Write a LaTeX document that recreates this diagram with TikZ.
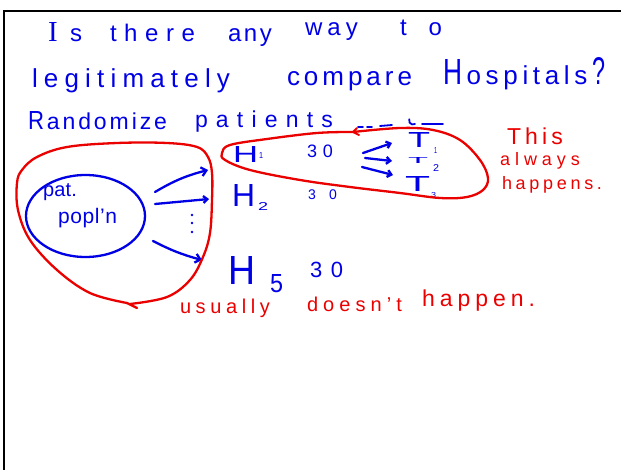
\documentclass[tikz,border=0pt]{standalone}
\usepackage{fontspec}
\usepackage{graphicx}
\setmainfont{Liberation Sans}
\newfontfamily\lserif{Liberation Serif}
\usetikzlibrary{arrows.meta,shapes.geometric}
\definecolor{inkblue}{RGB}{0,0,230}
\definecolor{inkred}{RGB}{235,0,0}
\newcommand{\sprd}[2]{\makebox[#1][s]{\spaceskip=0pt plus 1fil\relax #2}}
\newcommand{\fs}[1]{\fontsize{#1}{#1}\selectfont}
\tikzset{
  wb/.style={inner sep=0pt, outer sep=0pt, anchor=base west, text=inkblue},
  wr/.style={inner sep=0pt, outer sep=0pt, anchor=base west, text=inkred},
  bl/.style={draw=inkblue, line width=2.3pt, line cap=round, line join=round},
  rl/.style={draw=inkred, line width=2.3pt, line cap=round, line join=round},
  hw/.style={-{Straight Barb[length=5pt,width=9pt]}},
  hws/.style={-{Straight Barb[length=4pt,width=7pt]}}
}
\begin{document}
\begin{tikzpicture}[x=1pt,y=-1pt]
\useasboundingbox (0,0) rectangle (621,470);
\fill[white] (0,0) rectangle (621,470);
\draw[line width=2.6pt] (4,472) -- (4,11) -- (623,11);

% line 1
\node[wb,font=\fs{24}] (w1) at (48,42) {\sprd{34pt}{\resizebox{!}{19pt}{\lserif I} s}};
\node[wb,font=\fs{24}] (w2) at (110,42) {\sprd{85pt}{t h e r e}};
\node[wb,font=\fs{24}] (w3) at (228,42) {\sprd{44pt}{a n y}};
\node[wb,font=\fs{24}] (w4) at (305,36) {\sprd{53pt}{w a y}};
\node[wb,font=\fs{24}] (w5) at (400,36) {\sprd{42pt}{t o}};
% line 2
\node[wb,font=\fs{26}] (w6) at (32,88) {\sprd{198pt}{l e g i t i m a t e l y}};
\node[wb,font=\fs{26}] (w7) at (287,86) {\sprd{125pt}{c o m p a r e}};
\node[wb,font=\fs{26}] (w8) at (443,85) {\sprd{162pt}{\resizebox{19pt}{25pt}{H} o s p i t a l s \resizebox{13pt}{27pt}{?}}};
% line 3
\node[wb,font=\fs{23}] (w9) at (28,130) {\sprd{139pt}{\resizebox{16pt}{18pt}{R} a n d o m i z e}};
\node[wb,font=\fs{23}] (w10) at (195,128) {\sprd{138pt}{p a t i e n t s}};
% stray blue marks
\draw[bl,line width=1.8pt] (358,127) -- (363,127);
\draw[bl,line width=1.8pt] (367,127) -- (372,127);
\draw[bl,line width=1.8pt] (380,126) -- (392,125);
\draw[bl,line width=1.8pt] (415,124) arc[start angle=60,end angle=200,radius=4];
\draw[bl,line width=1.8pt] (422,124) -- (443,124);

% population ellipse
\node[draw=inkblue, line width=2.3pt, ellipse, minimum width=119pt, minimum height=82pt, inner sep=0pt] (pop) at (85.5,216) {};
\node[wb,font=\fs{20}] (pat) at (43,197) {\sprd{34pt}{p a t .}};
\node[wb,font=\fs{21}] (popln) at (58,224) {\sprd{59pt}{p o p l ' n}};

% hospitals
\node[wb] (h1) at (233,163) {\resizebox{25pt}{16pt}{H}};
\node[wb] (h1s) at (259,159) {\resizebox{4pt}{6pt}{1}};
\node[wb,font=\fs{18}] (n1) at (307,158) {\sprd{26pt}{3 0}};
\node[wb] (h2) at (232,207) {\resizebox{23pt}{22pt}{H}};
\node[wb] (h2s) at (258,211) {\resizebox{10pt}{8pt}{2}};
\node[wb,font=\fs{14}] (n2) at (308,200) {\sprd{29pt}{3 0}};
\node[wb] (h5) at (228,285) {\resizebox{27pt}{28pt}{H}};
\node[wb] (h5s) at (270,293) {\resizebox{13pt}{18pt}{5}};
\node[wb,font=\fs{22}] (n5) at (310,278) {\sprd{33pt}{3 0}};

% arrows from population
\coordinate (a1s) at (155,192); \coordinate (a1e) at (208,170);
\coordinate (a2s) at (155,204); \coordinate (a2e) at (209,199);
\coordinate (a3s) at (153,241); \coordinate (a3e) at (202,260);
\draw[bl,hw] (a1s) to[bend left=8] (a1e);
\draw[bl,hws] (a2s) -- (a2e);
\draw[bl,hw] (a3s) to[bend right=6] (a3e);
\fill[inkblue] (192,215) circle (1.3pt) (192,223) circle (1.3pt) (192,232) circle (1.3pt);

% treatments
\node[wb] (t1) at (408,148) {\resizebox{22pt}{15pt}{T}};
\node[wb] (t1s) at (434,154) {\resizebox{3pt}{6pt}{1}};
\node[wb] (t2) at (408,164) {\resizebox{20pt}{6pt}{T}};
\node[wb] (t2s) at (433,172) {\resizebox{6pt}{7pt}{2}};
\node[wb] (t3) at (405,192) {\resizebox{25pt}{15pt}{T}};
\node[wb] (t3s) at (431,198) {\resizebox{5pt}{5pt}{3}};
\coordinate (b1s) at (363,153); \coordinate (b1e) at (392,143);
\coordinate (b2s) at (365,158); \coordinate (b2e) at (392,161);
\coordinate (b3s) at (362,167); \coordinate (b3e) at (393,175);
\draw[bl,hws] (b1s) -- (b1e);
\draw[bl,hws] (b2s) -- (b2e);
\draw[bl,hws] (b3s) -- (b3e);

% red loops
\draw[rl] plot[smooth, tension=0.6] coordinates {(130,304) (167,297) (190,280) (203,257) (210,233) (212,200) (212,173) (208,157) (197,147) (167,143) (117,143) (67,147) (37,157) (22,170) (17,183) (18,210) (30,240) (57,270) (90,293) (127,303)};
\draw[rl] (127,303) -- (137,308);
\draw[rl] plot[smooth, tension=0.6] coordinates {(353,132) (400,128) (433,130) (460,140) (480,160) (488,178) (483,190) (467,197) (440,198) (400,193) (350,187) (300,180) (250,170) (225,160) (222,153) (230,145) (267,139) (317,133) (353,132)};
\draw[rl,line width=2pt] (357,128) -- (353,132) -- (359,135);

% red text
\node[wr,font=\fs{23}] (r1) at (507,145) {\sprd{56pt}{T h i s}};
\node[wr,font=\fs{18}] (r2) at (500,166) {\sprd{80pt}{a l w a y s}};
\node[wr,font=\fs{18}] (r3) at (502,190) {\sprd{100pt}{h a p p e n s .}};
\node[wr,font=\fs{20}] (r4) at (180,313) {\sprd{90pt}{u s u a l l y}};
\node[wr,font=\fs{20}] (r5) at (307,312) {\sprd{95pt}{d o e s n ' t}};
\node[wr,font=\fs{23}] (r6) at (422,307) {\sprd{113pt}{h a p p e n .}};
\end{tikzpicture}
\end{document}
